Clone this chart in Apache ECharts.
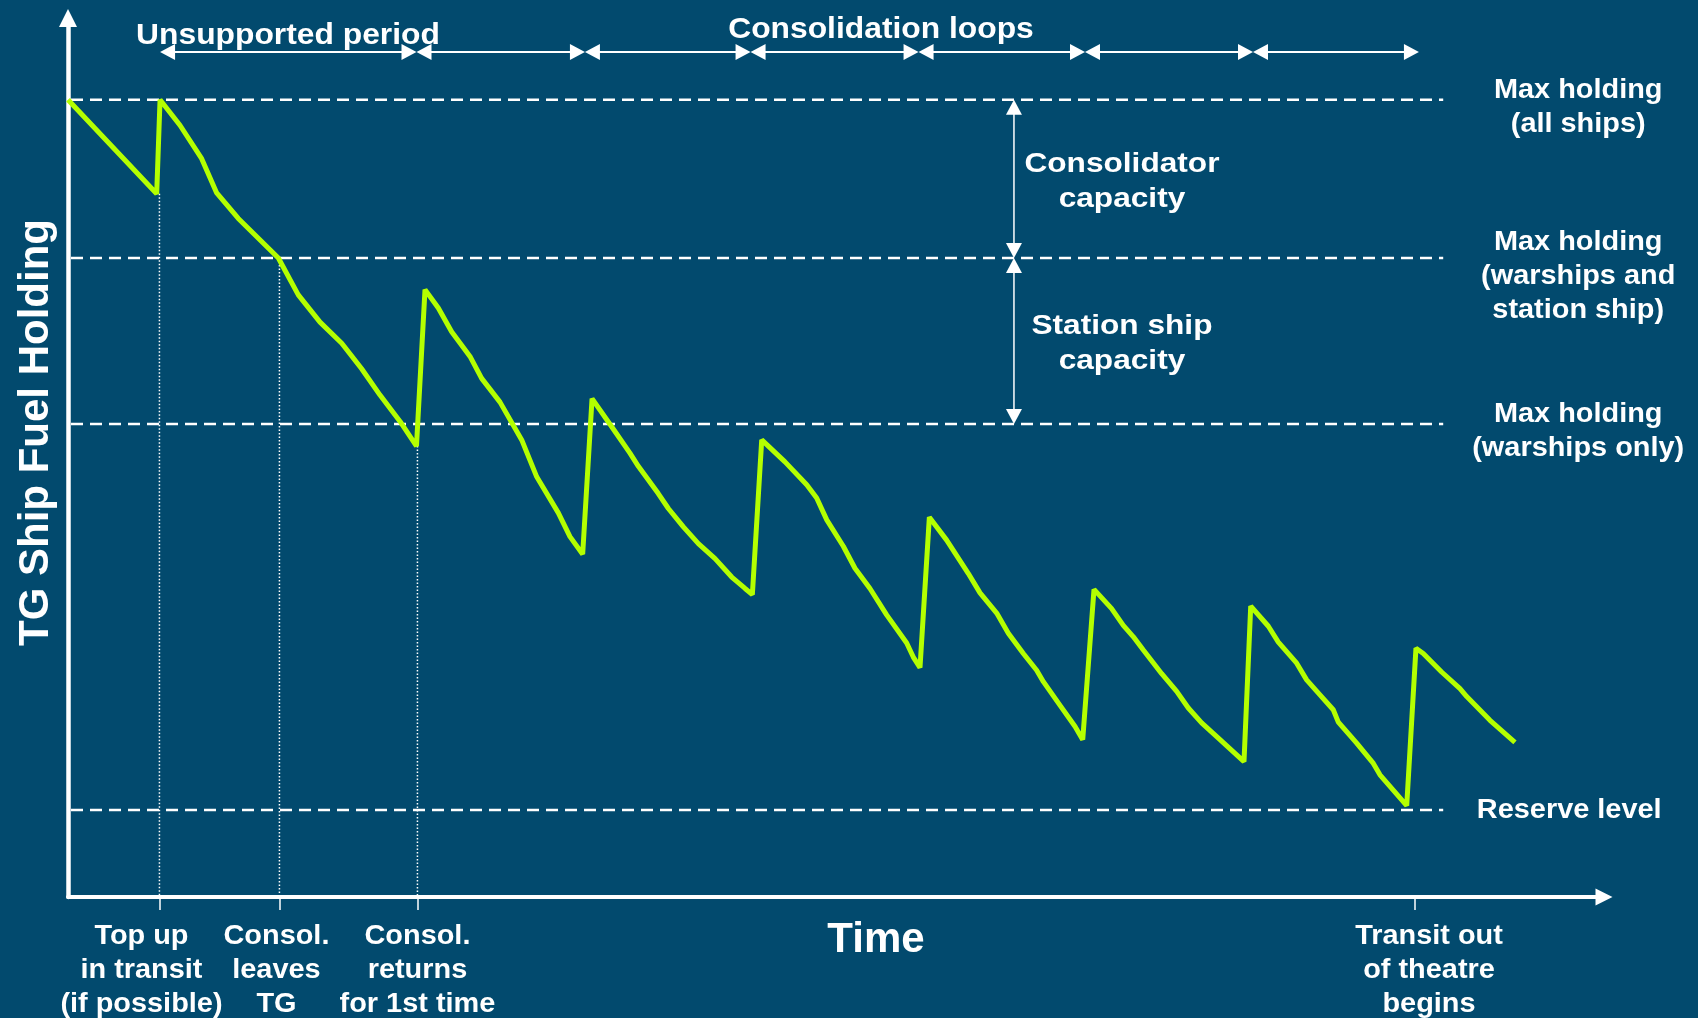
<!DOCTYPE html>
<html>
<head>
<meta charset="utf-8">
<title>TG Ship Fuel Holding over Time</title>
<script src="https://cdn.jsdelivr.net/npm/echarts@6/dist/echarts.min.js"></script>
<style>
  html, body { margin: 0; padding: 0; background: #024a6e; }
  #chart { width: 1698px; height: 1018px; }
</style>
</head>
<body>
<div id="chart"></div>
<script>
// ---- Data -------------------------------------------------------------
// Fuel held by the task group (arbitrary units, 0-100) against time (arbitrary units)
const times = [0, 7.39, 7.67, 9.33, 11.14, 12.39, 14.19, 17.53, 19.19, 21.0, 22.81, 24.47, 26.0, 27.67, 29.04,
  29.75, 30.86, 31.97, 33.5, 34.47, 36.0, 37.81, 39.06, 40.86, 41.83, 42.89,
  43.67, 45.31, 46.83, 47.53, 49.19, 50.03, 51.28, 52.53, 53.92, 55.31, 56.42, 57.03,
  57.81, 59.75, 61.56, 62.39, 63.23, 64.61, 65.58, 66.83, 68.22, 69.89, 70.44, 71.0,
  71.78, 73.22, 75.03, 76.0, 77.39, 78.36, 79.61, 80.72, 81.28, 82.67, 83.92, 84.56,
  85.5, 86.97, 87.94, 88.78, 89.61, 91.14, 92.39, 93.36, 94.47, 96.0, 98.0,
  98.56, 100.03, 100.86, 102.39, 103.22, 104.33, 105.44, 105.86, 107.39, 108.78, 109.33, 111.56,
  112.33, 112.94, 114.47, 116.0, 116.56, 118.5, 120.58];
const fuelHolding = [90.7, 80.0, 90.7, 87.8, 84.0, 80.1, 77.2, 72.7, 68.5, 65.4, 63.0, 60.1, 57.1, 54.1, 51.3,
  69.1, 67.0, 64.3, 61.5, 59.0, 56.3, 52.0, 47.8, 43.7, 41.0, 39.0,
  56.7, 53.5, 50.5, 49.0, 45.9, 44.2, 42.1, 40.2, 38.5, 36.4, 35.1, 34.4,
  52.0, 49.5, 46.9, 45.4, 42.9, 39.9, 37.4, 35.1, 32.1, 28.9, 27.3, 26.1,
  43.2, 40.6, 36.8, 34.6, 32.3, 30.0, 27.7, 25.8, 24.5, 21.8, 19.4, 17.9,
  35.0, 32.8, 30.9, 29.6, 28.1, 25.4, 23.4, 21.5, 19.8, 17.9, 15.4,
  33.1, 30.8, 29.0, 26.6, 24.7, 23.0, 21.3, 19.9, 17.5, 15.2, 13.9, 10.4,
  28.3, 27.7, 25.6, 23.7, 22.8, 20.1, 17.6];

// Holding limits
const levelNames = ['Max holding\n(all ships)', 'Max holding\n(warships and\nstation ship)',
  'Max holding\n(warships only)', 'Reserve level'];
const levelValues = [90.7, 72.7, 53.8, 9.9];

// Capacities that separate the holding limits
const capacityNames = ['Consolidator\ncapacity', 'Station ship\ncapacity'];

// Key moments on the time axis, and the holding at which each one is marked
const eventNames = ['Top up\nin transit\n(if possible)', 'Consol.\nleaves\nTG',
  'Consol.\nreturns\nfor 1st time', 'Transit out\nof theatre\nbegins'];
const eventTimes = [7.62, 17.62, 29.12, 112.25];
const eventHolding = [80.0, 72.7, 51.3, 0];

// Period boundaries: unsupported period, then the consolidation loops
const periodBounds = [7.67, 29.04, 43.08, 56.88, 70.88, 84.75, 98.75, 112.58];
const periodTitles = ['Unsupported period', 'Consolidation loops'];

// ---- Styling ----------------------------------------------------------
const FONT = "'Liberation Sans', Arial, Helvetica, sans-serif";
const WHITE = '#ffffff';
const LIME = '#b4ff00';
const levelLineEnd = 114.6;          // x where the dashed limit lines stop
const levelLabelDx = [135, 135, 135, 126];
const levelLabelDy = [8, 19, 7, 1];
const eventLabelDx = [-18, -3, 0, 14];
const eventLabelDy = 74;
const capacityArrowX = 78.83;
const capacityLabelDx = 108;
const periodArrowY = 52;

function triangle(tip, dx, dy, len, half) {
  // arrow head with its tip at `tip`, pointing along (dx, dy)
  const bx = tip[0] - dx * len, by = tip[1] - dy * len;
  return [[tip[0], tip[1]], [bx - dy * half, by + dx * half], [bx + dy * half, by - dx * half]];
}

function textEl(text, x, y, size, scaleX, lineHeight) {
  return {
    type: 'text', x: x, y: y, scaleX: scaleX || 1,
    style: {
      text: text, x: 0, y: 0, fill: WHITE,
      font: 'bold ' + size + 'px ' + FONT,
      align: 'center', verticalAlign: 'middle',
      lineHeight: lineHeight || Math.round(size * 1.2)
    }
  };
}

const chart = echarts.init(document.getElementById('chart'), null, { renderer: 'canvas' });

const option = {
  backgroundColor: '#024a6e',
  animation: false,
  grid: { left: 68, right: 94, top: 18, bottom: 121, containLabel: false },
  xAxis: {
    type: 'value', min: 0, max: 128,
    axisLine: {
      show: true, onZero: true,
      symbol: ['none', 'triangle'], symbolSize: [17, 17],
      lineStyle: { color: WHITE, width: 4 }
    },
    axisTick: {
      show: true, customValues: eventTimes, length: 13, inside: false,
      lineStyle: { color: WHITE, width: 1.5 }
    },
    axisLabel: { show: false },
    splitLine: { show: false }
  },
  yAxis: {
    type: 'value', min: 0, max: 100,
    axisLine: {
      show: true,
      symbol: ['none', 'triangle'], symbolSize: [18, 18],
      lineStyle: { color: WHITE, width: 4.5 }
    },
    axisTick: { show: false },
    axisLabel: { show: false },
    splitLine: { show: false }
  },
  graphic: [
    Object.assign(textEl(periodTitles[0], 288, 35.5, 30, 1.06), { z: 10 }),
    Object.assign(textEl(periodTitles[1], 881, 30, 30, 1.06), { z: 10 }),
    Object.assign(textEl('Time', 876, 940, 42, 1), { z: 10 }),
    Object.assign(textEl('TG Ship Fuel Holding', 36, 432.5, 42, 1), { rotation: Math.PI / 2, z: 10 })
  ],
  series: [
    {
      // dashed holding limits with their labels
      type: 'custom', coordinateSystem: 'cartesian2d', z: 2, silent: true,
      data: levelValues.map(function (v) { return [0, v]; }),
      encode: { x: 0, y: 1 },
      renderItem: function (params, api) {
        const i = params.dataIndex;
        const v = api.value(1);
        const a = api.coord([0, v]);
        const b = api.coord([levelLineEnd, v]);
        return {
          type: 'group',
          children: [
            { type: 'line', shape: { x1: a[0] + 3, y1: a[1], x2: b[0], y2: b[1] },
              style: { stroke: WHITE, lineWidth: 2.5, lineDash: [12, 7] } },
            textEl(levelNames[i], b[0] + levelLabelDx[i], a[1] + levelLabelDy[i], 27, 1.07, 34)
          ]
        };
      }
    },
    {
      // event guides and their labels under the time axis
      type: 'custom', coordinateSystem: 'cartesian2d', z: 2, silent: true,
      data: eventTimes.map(function (t, i) { return [t, eventHolding[i]]; }),
      encode: { x: 0, y: 1 },
      renderItem: function (params, api) {
        const i = params.dataIndex;
        const t = api.value(0), f = api.value(1);
        const top = api.coord([t, f]);
        const base = api.coord([t, 0]);
        const children = [];
        if (f > 0) {
          children.push({ type: 'line', shape: { x1: top[0], y1: top[1], x2: base[0], y2: base[1] },
            style: { stroke: WHITE, lineWidth: 1.5, lineDash: [1.5, 2] } });
        }
        children.push(textEl(eventNames[i], base[0] + eventLabelDx[i], base[1] + eventLabelDy, 27, 1.07, 34));
        return { type: 'group', children: children };
      }
    },
    {
      // double-headed arrows spanning each period
      type: 'custom', coordinateSystem: 'cartesian2d', z: 2, silent: true,
      data: periodBounds.slice(0, -1).map(function (x0, i) { return [x0, periodBounds[i + 1]]; }),
      encode: { x: [0, 1] },
      renderItem: function (params, api) {
        const p0 = api.coord([api.value(0), 0])[0];
        const p1 = api.coord([api.value(1), 0])[0];
        const y = periodArrowY;
        return {
          type: 'group',
          children: [
            { type: 'line', shape: { x1: p0 + 8, y1: y, x2: p1 - 8, y2: y },
              style: { stroke: WHITE, lineWidth: 2 } },
            { type: 'polygon', shape: { points: triangle([p0, y], -1, 0, 15, 8) }, style: { fill: WHITE } },
            { type: 'polygon', shape: { points: triangle([p1, y], 1, 0, 15, 8) }, style: { fill: WHITE } }
          ]
        };
      }
    },
    {
      // capacity arrows between the holding limits
      type: 'custom', coordinateSystem: 'cartesian2d', z: 2, silent: true,
      data: capacityNames.map(function (n, i) { return [levelValues[i], levelValues[i + 1]]; }),
      encode: { y: [0, 1] },
      renderItem: function (params, api) {
        const i = params.dataIndex;
        const a = api.coord([capacityArrowX, api.value(0)]);
        const b = api.coord([capacityArrowX, api.value(1)]);
        const x = a[0];
        return {
          type: 'group',
          children: [
            { type: 'line', shape: { x1: x, y1: a[1] + 8, x2: x, y2: b[1] - 8 },
              style: { stroke: WHITE, lineWidth: 1.5 } },
            { type: 'polygon', shape: { points: triangle([x, a[1]], 0, -1, 15, 8) }, style: { fill: WHITE } },
            { type: 'polygon', shape: { points: triangle([x, b[1]], 0, 1, 15, 8) }, style: { fill: WHITE } },
            textEl(capacityNames[i], x + capacityLabelDx, (a[1] + b[1]) / 2 + 3, 28.5, 1.11, 35)
          ]
        };
      }
    },
    {
      name: 'TG Ship Fuel Holding',
      type: 'line', z: 5, silent: true,
      data: times.map(function (t, i) { return [t, fuelHolding[i]]; }),
      symbol: 'none',
      lineStyle: { color: LIME, width: 5, join: 'bevel' }
    }
  ]
};

chart.setOption(option);
</script>
</body>
</html>
